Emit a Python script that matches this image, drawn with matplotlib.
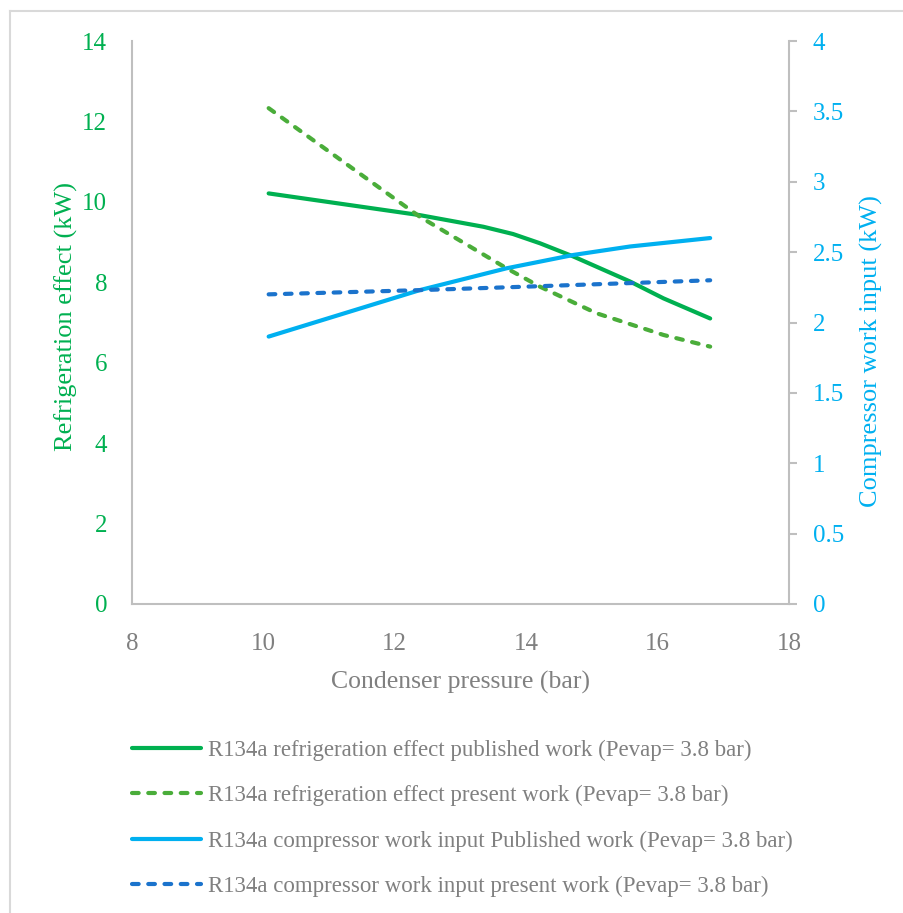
import matplotlib
matplotlib.use("Agg")
import matplotlib.pyplot as plt
from matplotlib.lines import Line2D

plt.rcParams["font.family"] = ["Liberation Serif", "DejaVu Serif"]

# refrigeration effect (kW), left axis
ref_pub_x = [10.08, 12.38, 13.35, 13.80, 14.21, 14.72, 15.58, 16.09, 16.80]
ref_pub_y = [10.21, 9.67, 9.38, 9.20, 8.97, 8.64, 8.02, 7.60, 7.10]
ref_new_x = [10.08, 12.38, 13.70, 14.21, 15.07, 16.09, 16.80]
ref_new_y = [12.33, 9.63, 8.35, 7.89, 7.23, 6.69, 6.40]

# compressor work input (kW), right axis
wk_pub_x = [10.08, 12.38, 13.70, 14.72, 15.58, 16.80]
wk_pub_y = [1.90, 2.23, 2.385, 2.48, 2.54, 2.60]
wk_new_x = [10.08, 12.38, 13.70, 15.58, 16.80]
wk_new_y = [2.20, 2.23, 2.25, 2.28, 2.30]

labels = [
    "R134a refrigeration effect published work (Pevap= 3.8 bar)",
    "R134a refrigeration effect present work (Pevap= 3.8 bar)",
    "R134a compressor work input Published work (Pevap= 3.8 bar)",
    "R134a compressor work input present work (Pevap= 3.8 bar)",
]

GREEN = "#00B050"
GREEN_D = "#4AAD3A"
BLUE = "#00B0F0"
BLUE_D = "#1B73CC"
GREY = "#BFBFBF"
TXT = "#808080"
DASH = (0, (1.6, 2.3))

fig = plt.figure(figsize=(9.04, 9.13), dpi=100)
ax = fig.add_axes([132 / 904, 1 - 604 / 913, 657 / 904, 563 / 913])
ax2 = ax.twinx()

l1, = ax.plot(ref_pub_x, ref_pub_y, color=GREEN, lw=3, solid_capstyle="round")
l2, = ax.plot(ref_new_x, ref_new_y, color=GREEN_D, lw=3, linestyle=DASH,
              dash_capstyle="round")
l3, = ax2.plot(wk_pub_x, wk_pub_y, color=BLUE, lw=3, solid_capstyle="round")
l4, = ax2.plot(wk_new_x, wk_new_y, color=BLUE_D, lw=3, linestyle=DASH,
               dash_capstyle="round")

ax.set_xlim(8, 18)
ax.set_ylim(0, 14)
ax2.set_ylim(0, 4)
ax.set_xticks([8, 10, 12, 14, 16, 18])
ax.set_yticks(range(0, 15, 2))
ax2.set_yticks([0, 0.5, 1, 1.5, 2, 2.5, 3, 3.5, 4])
ax2.set_yticklabels(["0", "0.5", "1", "1.5", "2", "2.5", "3", "3.5", "4"])

for a in (ax, ax2):
    for s in a.spines.values():
        s.set_visible(False)
ax.spines["left"].set_visible(True)
ax.spines["bottom"].set_visible(True)
ax2.spines["right"].set_visible(True)
for s in (ax.spines["left"], ax.spines["bottom"], ax2.spines["right"]):
    s.set_color(GREY)
    s.set_linewidth(1.5)

ax.tick_params(axis="y", length=0, pad=18, labelsize=18, labelcolor=GREEN)
ax.tick_params(axis="x", length=0, pad=21, labelsize=18, labelcolor=TXT)
ax2.tick_params(axis="y", length=6, width=1.5, color=GREY, pad=11,
                labelsize=18, labelcolor=BLUE)

ax.set_xlabel("Condenser pressure (bar)", fontsize=18.5, color=TXT, labelpad=11)
ax.set_ylabel("Refrigeration effect (kW)", fontsize=19, color=GREEN)
ax2.set_ylabel("Compressor work input (kW)", fontsize=19, color=BLUE)
ax.yaxis.set_label_coords(-0.082, 0.51)
ax2.yaxis.set_label_coords(1.108, 0.449)

fig.legend([l1, l2, l3, l4], labels, loc="upper left",
           bbox_to_anchor=(132 / 904, 1 - 740 / 913), frameon=False,
           borderpad=0, borderaxespad=0,
           fontsize=16.5, labelcolor=TXT, handlelength=3.0, handletextpad=0.3,
           labelspacing=1.05)

# faint page border on the left and top
fig.add_artist(Line2D([9.5 / 904, 9.5 / 904], [0, 1 - 11 / 913],
                      transform=fig.transFigure, color="#D9D9D9", lw=1.5))
fig.add_artist(Line2D([9.5 / 904, 1], [1 - 11 / 913, 1 - 11 / 913],
                      transform=fig.transFigure, color="#D9D9D9", lw=1.5))

fig.savefig("out.png", dpi=100)
